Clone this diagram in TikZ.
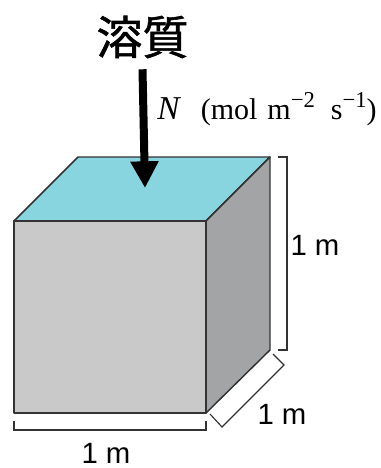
\documentclass[tikz,border=0pt]{standalone}
\usepackage{fontspec}
\setmainfont{Liberation Serif}
\setsansfont{Liberation Sans}
\newfontfamily\cjkfont[FakeBold=1.2]{Noto Sans CJK JP}
\usetikzlibrary{calc, positioning}
\usetikzlibrary{arrows.meta}
\definecolor{topcol}{HTML}{88D5DF}
\definecolor{frontcol}{HTML}{C9C9C9}
\definecolor{sidecol}{HTML}{A3A4A6}
\definecolor{edgecol}{HTML}{333333}
\tikzset{
  edge/.style={draw=edgecol, line width=1.1pt, line join=round},
  brace/.style={draw=edgecol, line width=0.85pt},
  sizelabel/.style={font=\sffamily\fontsize{22}{24}\selectfont, inner sep=0pt},
}
\newcommand{\supfig}[1]{\raisebox{8.5pt}{\fontsize{17}{18}\selectfont #1}}
\begin{document}
\begin{tikzpicture}[x=0.75pt, y=-0.75pt]
\useasboundingbox (0,0) rectangle (380,468);

\coordinate (A) at (14,221);
\coordinate (B) at (206,221);
\coordinate (C) at (206,413);
\coordinate (D) at (14,413);
\coordinate (E) at (78,157);
\coordinate (F) at (270,157);
\coordinate (G) at (270,350);

% Three faces of the block
\path[edge, fill=topcol] (A) -- (E) -- (F) -- (B) -- cycle;
\path[edge, fill=sidecol] (B) -- (F) -- (G) -- (C) -- cycle;
\path[edge, fill=frontcol] (A) -- (B) -- (C) -- (D) -- cycle;

% Brackets
\draw[brace] (278,157) -- (287,157) -- (287,350) -- (278,350);
\draw[brace] (14,421) -- (14,430) -- (206,430) -- (206,421);
\draw[brace] (273,354) -- (284,365) -- (222,427) -- (210,414);

% Flux arrow
\node[font=\cjkfont\fontsize{34.5}{36}\selectfont, inner sep=0pt, minimum height=48pt]
  (solute) at (142.5,37) {溶質};
\coordinate (soluteEnd) at (145,188);
\draw[line width=6pt, -{Triangle[width=20pt, length=20pt]}] (solute.south) -- (soluteEnd);

% Labels
\node[font=\fontsize{22.5}{24}\selectfont, inner sep=0pt, anchor=base west] (flux) at (157,119)
  {{\fontsize{25}{26}\selectfont\itshape N}\hspace{16pt}(mol\hspace{7.5pt}m\supfig{\char"2212 2}\hspace{12pt}s\supfig{\char"2212 1})};
\node[sizelabel, anchor=base] (heightLabel) at (315,255) {1 m};
\node[sizelabel, anchor=base] (depthLabel) at (282,424) {1 m};
\node[sizelabel, anchor=base] (widthLabel) at (106,463) {1 m};
\end{tikzpicture}
\end{document}
